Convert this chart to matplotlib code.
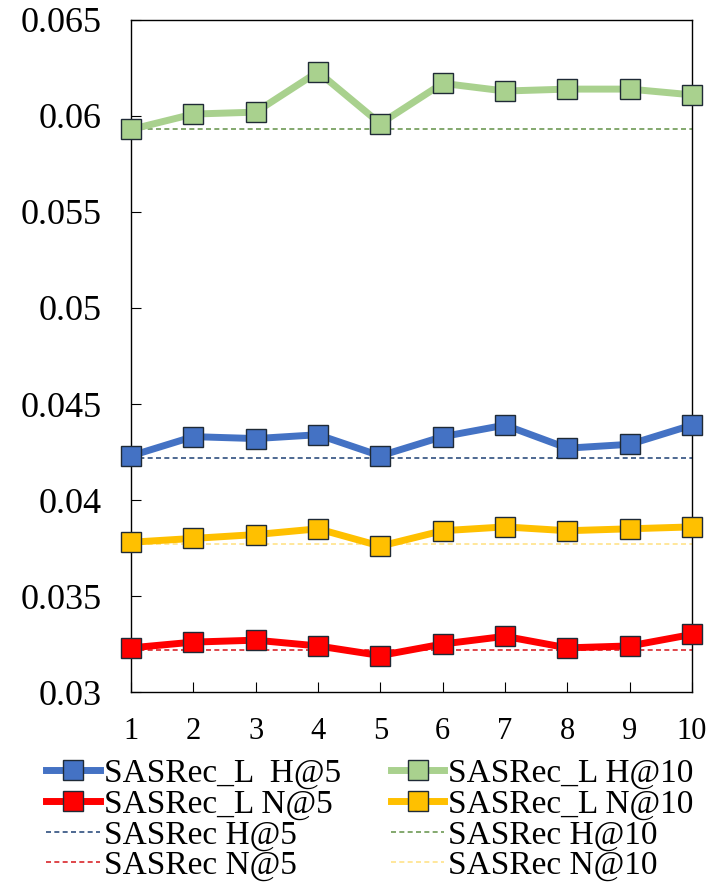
import matplotlib
matplotlib.use("Agg")
import matplotlib.pyplot as plt

plt.rcParams["font.family"] = ["Liberation Serif", "DejaVu Serif"]

steps = [1, 2, 3, 4, 5, 6, 7, 8, 9, 10]

# SASRec_L results per step
l_h5 = [0.0423, 0.0433, 0.0432, 0.0434, 0.0423, 0.0433, 0.0439, 0.0427, 0.0429, 0.0439]
l_h10 = [0.0593, 0.0601, 0.0602, 0.0623, 0.0596, 0.0617, 0.0613, 0.0614, 0.0614, 0.0611]
l_n5 = [0.0323, 0.0326, 0.0327, 0.0324, 0.0319, 0.0325, 0.0329, 0.0323, 0.0324, 0.0330]
l_n10 = [0.0378, 0.0380, 0.0382, 0.0385, 0.0376, 0.0384, 0.0386, 0.0384, 0.0385, 0.0386]

# SASRec baselines
base_h5 = 0.0422
base_h10 = 0.0593
base_n5 = 0.0322
base_n10 = 0.0377

yticks = [0.03, 0.035, 0.04, 0.045, 0.05, 0.055, 0.06, 0.065]
ytick_labels = ["0.03", "0.035", "0.04", "0.045", "0.05", "0.055", "0.06", "0.065"]

fig = plt.figure(figsize=(7.13, 8.88), dpi=100)
ax = fig.add_axes([0.1837, 0.2207, 0.7868, 0.7568])

line_kw = dict(linewidth=5, marker="s", markersize=14.5, markeredgecolor="#1f2a36",
               markeredgewidth=1.0, clip_on=False, zorder=3)
dash_kw = dict(linewidth=1.2, linestyle=(0, (3, 2)), zorder=2)

h_lh5, = ax.plot(steps, l_h5, color="#4472C4", label="SASRec_L  H@5", **line_kw)
h_lh10, = ax.plot(steps, l_h10, color="#A9D18E", label="SASRec_L H@10", **line_kw)
h_ln5, = ax.plot(steps, l_n5, color="#FF0000", label="SASRec_L N@5", **line_kw)
h_ln10, = ax.plot(steps, l_n10, color="#FFC000", label="SASRec_L N@10", **line_kw)

h_bh5 = ax.axhline(base_h5, color="#2F4F7F", label="SASRec H@5", **dash_kw)
h_bh10 = ax.axhline(base_h10, color="#6E9A55", label="SASRec H@10", **dash_kw)
h_bn5 = ax.axhline(base_n5, color="#D9262B", label="SASRec N@5", **dash_kw)
h_bn10 = ax.axhline(base_n10, color="#FFE38A", label="SASRec N@10", **dash_kw)

ax.set_xlim(1, 10)
ax.set_ylim(0.03, 0.065)
ax.set_xticks(steps)
ax.set_xticklabels([str(s) for s in steps])
ax.set_yticks(yticks)
ax.set_yticklabels(ytick_labels)
ax.tick_params(axis="both", direction="in", length=7, width=0.8,
               top=False, right=False)
ax.tick_params(axis="x", pad=18, labelsize=22)
ax.tick_params(axis="y", pad=21, labelsize=26)
for sp in ax.spines.values():
    sp.set_linewidth(1.0)
    sp.set_color("black")

# legend fills column-wise, so order handles column by column
handles = [h_lh5, h_ln5, h_bh5, h_bn5, h_lh10, h_ln10, h_bh10, h_bn10]
fig.legend(handles=handles, labels=[h.get_label() for h in handles],
           loc="upper center", bbox_to_anchor=(0.519, 0.161), ncol=2,
           frameon=False, fontsize=24, handlelength=1.6, handletextpad=0.12,
           columnspacing=1.5, labelspacing=0.0, borderaxespad=0)

fig.savefig("out.png", dpi=100)
